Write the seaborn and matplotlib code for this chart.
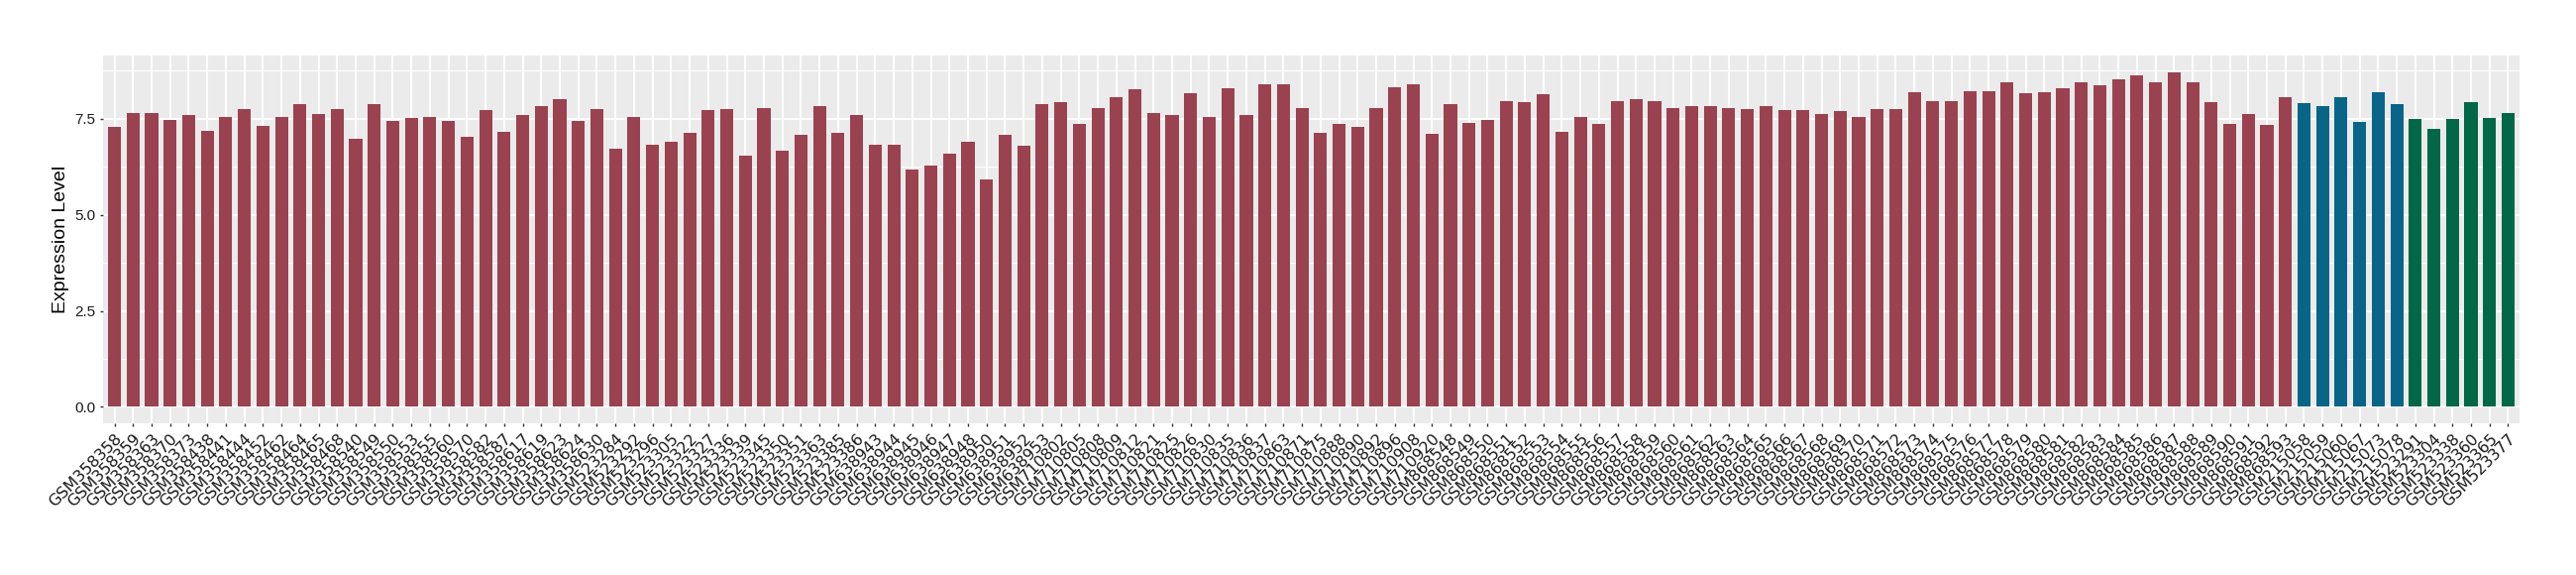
import numpy as np
import pandas as pd
import seaborn as sns
import matplotlib
matplotlib.use('Agg')
import matplotlib.pyplot as plt
from matplotlib.ticker import MultipleLocator

# sample ids, in plot order
samples = [
    'GSM358358', 'GSM358359', 'GSM358363', 'GSM358370', 'GSM358373', 'GSM358438',
    'GSM358441', 'GSM358444', 'GSM358452', 'GSM358462', 'GSM358464', 'GSM358465',
    'GSM358468', 'GSM358540', 'GSM358549', 'GSM358550', 'GSM358553', 'GSM358555',
    'GSM358560', 'GSM358570', 'GSM358582', 'GSM358587', 'GSM358617', 'GSM358619',
    'GSM358623', 'GSM358624', 'GSM358630', 'GSM523284', 'GSM523292', 'GSM523296',
    'GSM523305', 'GSM523322', 'GSM523327', 'GSM523336', 'GSM523339', 'GSM523345',
    'GSM523350', 'GSM523351', 'GSM523363', 'GSM523385', 'GSM523386', 'GSM638943',
    'GSM638944', 'GSM638945', 'GSM638946', 'GSM638947', 'GSM638948', 'GSM638950',
    'GSM638951', 'GSM638952', 'GSM638953', 'GSM710802', 'GSM710805', 'GSM710808',
    'GSM710809', 'GSM710812', 'GSM710821', 'GSM710825', 'GSM710826', 'GSM710830',
    'GSM710835', 'GSM710836', 'GSM710837', 'GSM710863', 'GSM710871', 'GSM710875',
    'GSM710888', 'GSM710890', 'GSM710892', 'GSM710896', 'GSM710908', 'GSM710920',
    'GSM868548', 'GSM868549', 'GSM868550', 'GSM868551', 'GSM868552', 'GSM868553',
    'GSM868554', 'GSM868555', 'GSM868556', 'GSM868557', 'GSM868558', 'GSM868559',
    'GSM868560', 'GSM868561', 'GSM868562', 'GSM868563', 'GSM868564', 'GSM868565',
    'GSM868566', 'GSM868567', 'GSM868568', 'GSM868569', 'GSM868570', 'GSM868571',
    'GSM868572', 'GSM868573', 'GSM868574', 'GSM868575', 'GSM868576', 'GSM868577',
    'GSM868578', 'GSM868579', 'GSM868580', 'GSM868581', 'GSM868582', 'GSM868583',
    'GSM868584', 'GSM868585', 'GSM868586', 'GSM868587', 'GSM868588', 'GSM868589',
    'GSM868590', 'GSM868591', 'GSM868592', 'GSM868593',
    'GSM215058', 'GSM215059', 'GSM215060', 'GSM215067', 'GSM215073', 'GSM215078',
    'GSM523291', 'GSM523304', 'GSM523338', 'GSM523360', 'GSM523365', 'GSM523377',
]

expression = [
    7.29, 7.64, 7.64, 7.47, 7.59, 7.19, 7.54, 7.74, 7.32, 7.54, 7.87, 7.62,
    7.74, 6.99, 7.87, 7.44, 7.52, 7.54, 7.44, 7.04, 7.72, 7.16, 7.59, 7.82,
    8.02, 7.44, 7.74, 6.72, 7.54, 6.82, 6.91, 7.14, 7.72, 7.74, 6.54, 7.79,
    6.66, 7.07, 7.82, 7.14, 7.59, 6.82, 6.82, 6.17, 6.29, 6.59, 6.89, 5.92,
    7.07, 6.79, 7.87, 7.94, 7.36, 7.79, 8.07, 8.27, 7.64, 7.59, 8.16, 7.54,
    8.29, 7.59, 8.41, 8.40, 7.79, 7.14, 7.36, 7.29, 7.77, 8.32, 8.41, 7.10,
    7.89, 7.39, 7.47, 7.97, 7.94, 8.14, 7.16, 7.54, 7.36, 7.97, 8.02, 7.97,
    7.77, 7.82, 7.82, 7.77, 7.74, 7.82, 7.72, 7.72, 7.62, 7.69, 7.54, 7.74,
    7.74, 8.19, 7.97, 7.97, 8.21, 8.21, 8.44, 8.16, 8.19, 8.29, 8.46, 8.37,
    8.52, 8.62, 8.44, 8.71, 8.46, 7.94, 7.36, 7.62, 7.35, 8.07,
    7.91, 7.84, 8.07, 7.41, 8.19, 7.87,
    7.49, 7.24, 7.49, 7.94, 7.52, 7.64,
]

groups = ['A'] * 118 + ['B'] * 6 + ['C'] * 6
group_colors = {'A': '#9B4250', 'B': '#086588', 'C': '#006846'}

df = pd.DataFrame({'Sample': samples, 'Expression': expression, 'Group': groups})

fig = plt.figure(figsize=(26, 5.8), dpi=100)
ax = fig.add_axes([104.3 / 2600, 1 - 427.3 / 580, (2542.7 - 104.3) / 2600, (427.3 - 56) / 580])

sns.barplot(data=df, x='Sample', y='Expression', hue='Group', palette=group_colors,
            dodge=False, width=0.7, legend=False, saturation=1, ax=ax, zorder=3)

# ggplot-ish look
ax.set_facecolor('#EBEBEB')
for s in ax.spines.values():
    s.set_visible(False)
ymax = max(expression)
ax.yaxis.set_major_locator(MultipleLocator(2.5))
ax.yaxis.set_minor_locator(MultipleLocator(1.25))
ax.grid(which='major', axis='both', color='white', linewidth=1.4, zorder=0)
ax.grid(which='minor', axis='y', color='white', linewidth=0.7, zorder=0)
ax.set_axisbelow(True)
ax.tick_params(axis='both', which='major', length=2.5, width=1, color='#333333',
               labelcolor='#1a1a1a', pad=3)
ax.tick_params(axis='y', which='minor', length=0)
ax.set_yticks([0, 2.5, 5, 7.5])
ax.set_yticklabels(['0.0', '2.5', '5.0', '7.5'], fontsize=11, fontfamily='Liberation Sans')
ax.set_ylim(-0.05 * ymax, 1.05 * ymax)
ax.set_xlim(-0.6, len(samples) - 1 + 0.6)

ax.set_xticks(range(len(samples)))
ax.set_xticklabels(samples, rotation=45, ha='right', va='top', rotation_mode='anchor',
                   fontsize=11.5, fontfamily='DejaVu Sans')

ax.set_xlabel('')
ax.set_ylabel('Expression Level', fontsize=14, fontfamily='Liberation Sans', labelpad=4)

fig.savefig('out.png', dpi=100)
